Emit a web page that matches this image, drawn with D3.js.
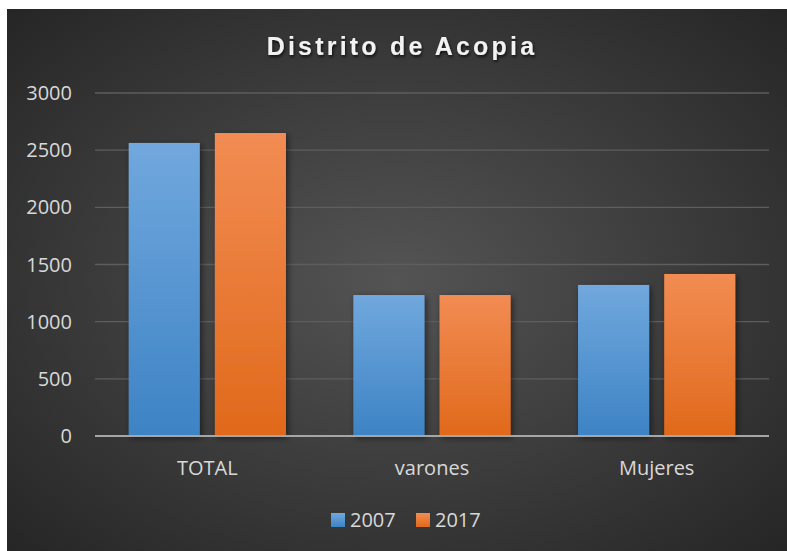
<!DOCTYPE html>
<html>
<head>
<meta charset="utf-8">
<script src="https://cdn.jsdelivr.net/npm/d3@7"></script>
<style>
  body { margin: 0; background: #fff; }
  svg { display: block; }
</style>
</head>
<body>
<script>
var categories = ["TOTAL", "varones", "Mujeres"];
var years = ["2007", "2017"];
var values2007 = [2563, 1233, 1321];
var values2017 = [2650, 1233, 1417];
var yTicks = [0, 500, 1000, 1500, 2000, 2500, 3000];

var width = 787, height = 551;
var margin = {left: 95, right: 18, top: 93, bottom: 115};

var svg = d3.select("body").append("svg")
    .attr("width", width)
    .attr("height", height);

var defs = svg.append("defs");

var bg = defs.append("radialGradient")
    .attr("id", "bg")
    .attr("cx", "50%").attr("cy", "50%").attr("r", "70%");
bg.append("stop").attr("offset", "0%").attr("stop-color", "#545454");
bg.append("stop").attr("offset", "100%").attr("stop-color", "#262626");

var blue = defs.append("linearGradient").attr("id", "g2007")
    .attr("x1", 0).attr("y1", 0).attr("x2", 0).attr("y2", 1);
blue.append("stop").attr("offset", "0%").attr("stop-color", "#71a8dd");
blue.append("stop").attr("offset", "100%").attr("stop-color", "#3d83c5");

var orange = defs.append("linearGradient").attr("id", "g2017")
    .attr("x1", 0).attr("y1", 0).attr("x2", 0).attr("y2", 1);
orange.append("stop").attr("offset", "0%").attr("stop-color", "#f28c53");
orange.append("stop").attr("offset", "100%").attr("stop-color", "#e0691b");

var shadow = defs.append("filter").attr("id", "shadow")
    .attr("x", "-20%").attr("y", "-20%").attr("width", "150%").attr("height", "150%");
shadow.append("feDropShadow")
    .attr("dx", 2).attr("dy", 2).attr("stdDeviation", 3)
    .attr("flood-color", "#000").attr("flood-opacity", 0.5);

var tshadow = defs.append("filter").attr("id", "tshadow");
tshadow.append("feDropShadow")
    .attr("dx", 1).attr("dy", 2).attr("stdDeviation", 1.5)
    .attr("flood-color", "#000").attr("flood-opacity", 0.7);

// chart background
svg.append("rect")
    .attr("x", 7).attr("y", 9)
    .attr("width", width - 7).attr("height", height - 9)
    .attr("fill", "url(#bg)");

svg.append("text")
    .attr("x", 402).attr("y", 55)
    .attr("text-anchor", "middle")
    .attr("font-family", "Liberation Sans, Arial, sans-serif")
    .attr("font-weight", "bold")
    .attr("font-size", 25)
    .attr("letter-spacing", 3.2)
    .attr("fill", "#f2f2f2")
    .attr("filter", "url(#tshadow)")
    .text("Distrito de Acopia");

var x0 = d3.scaleBand()
    .domain(categories)
    .range([margin.left, width - margin.right])
    .paddingInner(0.3)
    .paddingOuter(0.15);

var x1 = d3.scaleBand()
    .domain(years)
    .range([0, x0.bandwidth()])
    .paddingInner(0.175)
    .paddingOuter(0);

var y = d3.scaleLinear()
    .domain([0, 3000])
    .range([height - margin.bottom, margin.top]);

// gridlines
svg.append("g")
    .selectAll("line")
    .data(yTicks.slice(1))
    .enter().append("line")
    .attr("x1", margin.left).attr("x2", width - margin.right)
    .attr("y1", function(d) { return y(d); })
    .attr("y2", function(d) { return y(d); })
    .attr("stroke", "#5e5e5e")
    .attr("stroke-width", 1.3);

var labelFont = "Open Sans, sans-serif";

// y labels
svg.append("g")
    .selectAll("text")
    .data(yTicks)
    .enter().append("text")
    .attr("x", 72)
    .attr("y", function(d) { return y(d); })
    .attr("dy", "0.35em")
    .attr("text-anchor", "end")
    .attr("font-family", labelFont)
    .attr("font-size", 20)
    .attr("fill", "#d9d9d9")
    .text(function(d) { return d; });

var table = categories.map(function(c, i) {
  return {cat: c, vals: [
    {year: "2007", v: values2007[i]},
    {year: "2017", v: values2017[i]}
  ]};
});

var groups = svg.append("g")
    .selectAll("g")
    .data(table)
    .enter().append("g")
    .attr("transform", function(d) { return "translate(" + x0(d.cat) + ",0)"; });

groups.selectAll("rect")
    .data(function(d) { return d.vals; })
    .enter().append("rect")
    .attr("x", function(d) { return x1(d.year); })
    .attr("y", function(d) { return y(d.v); })
    .attr("width", x1.bandwidth())
    .attr("height", function(d) { return y(0) - y(d.v); })
    .attr("fill", function(d) { return "url(#g" + d.year + ")"; })
    .attr("filter", "url(#shadow)");

// axis line
svg.append("line")
    .attr("x1", margin.left).attr("x2", width - margin.right)
    .attr("y1", y(0)).attr("y2", y(0))
    .attr("stroke", "#a6a6a6")
    .attr("stroke-width", 2);

// category labels
svg.append("g")
    .selectAll("text")
    .data(categories)
    .enter().append("text")
    .attr("x", function(d) { return x0(d) + x0.bandwidth() / 2; })
    .attr("y", 475)
    .attr("text-anchor", "middle")
    .attr("font-family", labelFont)
    .attr("font-size", 20)
    .attr("fill", "#d9d9d9")
    .text(function(d) { return d; });

// legend
var legend = svg.append("g")
    .selectAll("g")
    .data(years)
    .enter().append("g")
    .attr("transform", function(d, i) { return "translate(" + (331 + i * 85) + ",513)"; });

legend.append("rect")
    .attr("width", 14).attr("height", 14)
    .attr("fill", function(d) { return "url(#g" + d + ")"; });

legend.append("text")
    .attr("x", 19).attr("y", 7)
    .attr("dy", "0.35em")
    .attr("font-family", labelFont)
    .attr("font-size", 20)
    .attr("fill", "#d9d9d9")
    .text(function(d) { return d; });
</script>
</body>
</html>
